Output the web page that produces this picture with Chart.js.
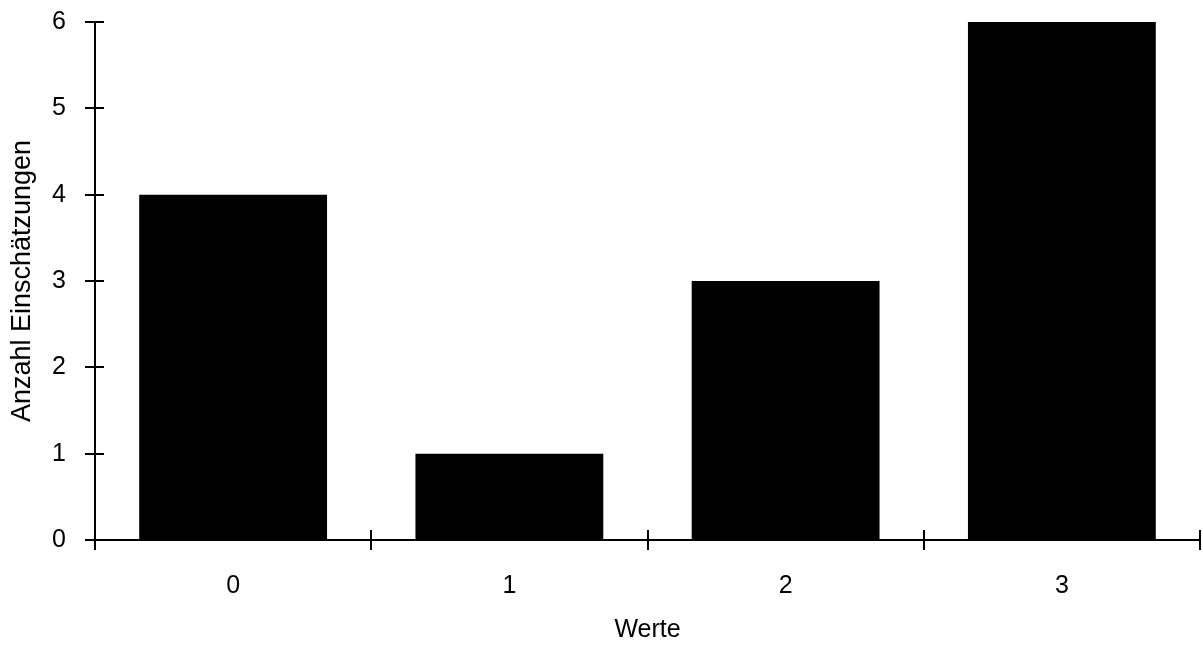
<!DOCTYPE html>
<html>
<head>
<meta charset="utf-8">
<script src="https://cdn.jsdelivr.net/npm/chart.js@4/dist/chart.umd.min.js"></script>
<style>
  body { margin: 0; background: #fff; }
  #wrap { width: 1203px; height: 645px; }
</style>
</head>
<body>
<div id="wrap"><canvas id="c" width="1203" height="645"></canvas></div>
<script>
// data
const categories = ['0', '1', '2', '3'];
const counts = [4, 1, 3, 6];
const yTicks = [0, 1, 2, 3, 4, 5, 6];

const FONT = 'Liberation Sans, Arial, Helvetica, sans-serif';

// ticks that cross the axis line (Chart.js only draws them outside)
const crossTicks = {
  id: 'crossTicks',
  afterDraw(chart) {
    const ctx = chart.ctx;
    const x = chart.scales.x, y = chart.scales.y;
    const area = chart.chartArea;
    ctx.save();
    ctx.strokeStyle = '#000';
    ctx.lineWidth = 2;
    ctx.beginPath();
    y.ticks.forEach(t => {
      const py = Math.round(y.getPixelForValue(t.value));
      ctx.moveTo(area.left - 10, py);
      ctx.lineTo(area.left + 9, py);
    });
    const half = (x.getPixelForValue(1) - x.getPixelForValue(0)) / 2;
    for (let i = 0; i <= categories.length; i++) {
      const px = Math.round(x.getPixelForValue(i) - half);
      ctx.moveTo(px, area.bottom - 10);
      ctx.lineTo(px, area.bottom + 10);
    }
    ctx.stroke();
    ctx.restore();
  }
};

new Chart(document.getElementById('c'), {
  type: 'bar',
  data: {
    labels: categories,
    datasets: [{
      label: 'Anzahl',
      data: counts,
      backgroundColor: '#000',
      borderWidth: 0,
      barPercentage: 0.68,
      categoryPercentage: 1.0
    }]
  },
  options: {
    responsive: false,
    animation: false,
    layout: { padding: { top: 22, right: 3, left: 0, bottom: 0 } },
    plugins: { legend: { display: false }, tooltip: { enabled: false } },
    scales: {
      x: {
        offset: true,
        grid: { display: true, drawOnChartArea: false, drawTicks: false, offset: true },
        border: { display: true, color: '#000', width: 2 },
        ticks: { color: '#000', font: { family: FONT, size: 25 }, padding: 31 },
        title: { display: true, text: 'Werte', color: '#000', font: { family: FONT, size: 25 }, padding: { top: 22, bottom: 0 } },
        afterFit(s) { s.height = 105; }
      },
      y: {
        min: 0,
        max: 6,
        afterBuildTicks(s) { s.ticks = yTicks.map(v => ({ value: v })); },
        // invisible tick marks just push the labels away from the axis
        grid: { display: true, drawOnChartArea: false, drawTicks: true, tickLength: 29, tickColor: 'rgba(0,0,0,0)' },
        border: { display: true, color: '#000', width: 2 },
        ticks: { color: '#000', font: { family: FONT, size: 25 }, padding: 0 },
        title: { display: true, text: 'Anzahl Einschätzungen', color: '#000', font: { family: FONT, size: 27 }, padding: { top: 6, bottom: 0 } },
        afterFit(s) { s.width = 95; }
      }
    }
  },
  plugins: [crossTicks]
});
</script>
</body>
</html>
